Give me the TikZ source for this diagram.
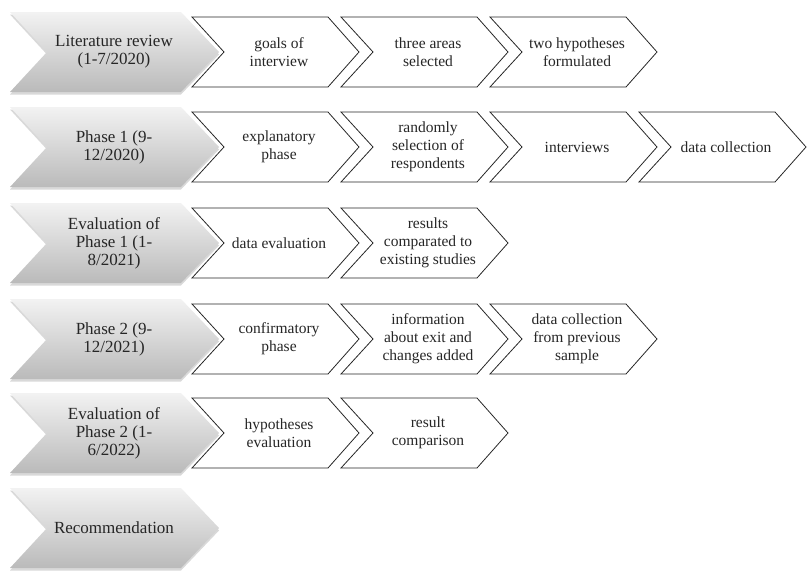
\documentclass[tikz,border=0pt]{standalone}
\usepackage{fontspec}
\setmainfont{Liberation Serif}
\usetikzlibrary{shadows}

\tikzset{
  phasebox/.style={draw=none, top color=black!5, bottom color=black!27,
    drop shadow={opacity=0.3, shadow xshift=0pt, shadow yshift=-2.5pt}},
  phasetext/.style={align=center, text=black!85, inner sep=0pt,
    font=\fontsize{17}{18}\selectfont},
  stepbox/.style={draw=black!85, line width=0.8pt, fill=white, line join=miter},
  steptext/.style={align=center, text=black!85, inner sep=0pt,
    font=\fontsize{15.5}{18}\selectfont},
}

% grey phase chevron: name, centre y, text
\newcommand\phasechev[3]{%
  \path[phasebox] (10,#2-40) -- (181,#2-40) -- (219,#2) -- (181,#2+40)
    -- (10,#2+40) -- (47,#2) -- cycle;
  \node[phasetext] (#1) at (114,#2) {#3};
}
% white step chevron: name, left x, centre y, text
\newcommand\stepchev[4]{%
  \draw[stepbox] (#2,#3-35) -- (#2+136,#3-35) -- (#2+167,#3) -- (#2+136,#3+35)
    -- (#2,#3+35) -- (#2+32,#3) -- cycle;
  \node[steptext] (#1) at (#2+87,#3) {#4};
}

\begin{document}
\begin{tikzpicture}[x=1pt,y=-1pt]
\useasboundingbox (0,0) rectangle (808,571);

% row 1
\phasechev{p1}{52}{Literature review\\(1-7/2020)}
\stepchev{s11}{192}{52}{goals of\\interview}
\stepchev{s12}{341}{52}{three areas\\selected}
\stepchev{s13}{490}{52}{two hypotheses\\formulated}

% row 2
\phasechev{p2}{147}{Phase 1 (9-\\12/2020)}
\stepchev{s21}{192}{147}{explanatory\\phase}
\stepchev{s22}{341}{147}{randomly\\selection of\\respondents}
\stepchev{s23}{490}{147}{interviews}
\stepchev{s24}{639}{147}{data collection}

% row 3
\phasechev{p3}{243}{Evaluation of\\Phase 1 (1-\\8/2021)}
\stepchev{s31}{192}{243}{data evaluation}
\stepchev{s32}{341}{243}{results\\comparated to\\existing studies}

% row 4
\phasechev{p4}{339}{Phase 2 (9-\\12/2021)}
\stepchev{s41}{192}{339}{confirmatory\\phase}
\stepchev{s42}{341}{339}{information\\about exit and\\changes added}
\stepchev{s43}{490}{339}{data collection\\from previous\\sample}

% row 5
\phasechev{p5}{433}{Evaluation of\\Phase 2 (1-\\6/2022)}
\stepchev{s51}{192}{433}{hypotheses\\evaluation}
\stepchev{s52}{341}{433}{result\\comparison}

% row 6
\phasechev{p6}{528}{Recommendation}
\end{tikzpicture}
\end{document}
